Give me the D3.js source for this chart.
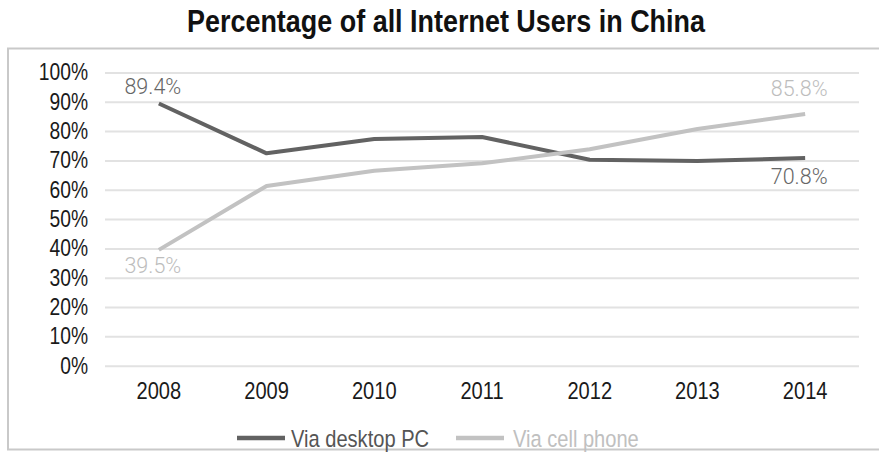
<!DOCTYPE html>
<html><head><meta charset="utf-8">
<script src="https://cdn.jsdelivr.net/npm/d3@7"></script>
<style>body{margin:0;background:#fff}svg{display:block}</style>
</head><body>
<svg id="chart" width="879" height="457"></svg>
<script>
const title = "Percentage of all Internet Users in China";
const years = ["2008","2009","2010","2011","2012","2013","2014"];
const desktopPC = [89.4, 72.4, 77.3, 78.0, 70.2, 69.8, 70.8];
const cellPhone = [39.5, 61.3, 66.5, 69.0, 73.8, 80.7, 85.8];
const yTicks = [0,10,20,30,40,50,60,70,80,90,100];
const seriesNames = ["Via desktop PC", "Via cell phone"];
const seriesColors = ["#626262", "#c2c2c2"];
const labelColors = ["#666666", "#bdbdbd"];

// detect narrow font
function hasFont(f){
  const c=document.createElement("canvas").getContext("2d");
  c.font="40px monospace"; const a=c.measureText("Percentage 2008 abcxyz").width;
  c.font="40px '"+f+"', monospace"; const b=c.measureText("Percentage 2008 abcxyz").width;
  return a!==b;
}
const narrowOK = hasFont("Liberation Sans Narrow");
const NARROW = narrowOK ? "'Liberation Sans Narrow'" : "'Liberation Sans'";
const sx = narrowOK ? 1 : 0.82;

const svg = d3.select("#chart");
const x = d3.scaleBand().domain(years).range([105, 859]).padding(0);
const cx = d => x(d) + x.bandwidth()/2;
const y = d3.scaleLinear().domain([0,100]).range([365.7, 72.4]);

// border
svg.append("rect").attr("x",8).attr("y",48.5).attr("width",890).attr("height",401)
  .attr("fill","none").attr("stroke","#c9c9c9").attr("stroke-width",2);

// title
svg.append("text").attr("x",187).attr("y",31.5)
  .attr("font-family",NARROW+", 'Liberation Sans', sans-serif").attr("font-weight","bold")
  .attr("font-size",30.5).attr("fill","#111")
  .attr("textLength",518).attr("lengthAdjust","spacingAndGlyphs")
  .text(title);

// gridlines
const yAxis = d3.axisLeft(y).tickValues(yTicks).tickFormat(d=>d+"%").tickSize(-(859-105)).tickPadding(17);
const gy = svg.append("g").attr("transform","translate(105,0)").call(yAxis);
gy.select(".domain").remove();
gy.selectAll(".tick line").attr("stroke","#e2e2e2").attr("stroke-width",2);
gy.selectAll(".tick text").attr("font-family",NARROW).attr("font-size",23.5).attr("fill","#1a1a1a")
  .each(function(){ if(sx!==1){ const t=d3.select(this); t.attr("transform","translate(-17,0) scale("+sx+",1) translate(17,0)"); } });

// x axis
const xAxis = d3.axisBottom(x).tickSize(0).tickPadding(0);
const gx = svg.append("g").attr("transform","translate(0,399)").call(xAxis);
gx.select(".domain").remove();
gx.selectAll(".tick text").attr("dy",0).attr("y",0).attr("font-family",NARROW).attr("font-size",24.5).attr("fill","#1a1a1a")
  .attr("transform", sx!==1 ? "scale("+sx+",1)" : null);

// lines
const line = d3.line().x((d,i)=>cx(years[i])).y(d=>y(d));
[desktopPC, cellPhone].forEach((s,k)=>{
  svg.append("path").datum(s).attr("d",line).attr("fill","none")
    .attr("stroke",seriesColors[k]).attr("stroke-width",4).attr("stroke-linejoin","round");
});

// data labels
const labels = [
  {s:0,i:0,dy:-9.6},{s:0,i:6,dy:26},
  {s:1,i:0,dy:23},{s:1,i:6,dy:-18}
];
labels.forEach(l=>{
  const v = [desktopPC,cellPhone][l.s][l.i];
  svg.append("text").attr("x",cx(years[l.i])-6).attr("y",y(v)+l.dy)
    .attr("text-anchor","middle").attr("font-family","Roboto, sans-serif").attr("font-weight",300)
    .attr("font-size",21.5).attr("fill",labelColors[l.s]).text(v.toFixed(1)+"%");
});

// legend
const legX = [237, 456], legTextX=[291, 513];
seriesNames.forEach((n,k)=>{
  svg.append("line").attr("x1",legX[k]).attr("x2",legX[k]+48).attr("y1",438).attr("y2",438)
    .attr("stroke",seriesColors[k]).attr("stroke-width",4.5);
  svg.append("text").attr("x",0).attr("y",0)
    .attr("font-family",NARROW).attr("font-size",24.5).attr("fill",k===0?"#555555":"#c0c0c0").text(n)
    .attr("transform","translate("+legTextX[k]+",446.5) scale("+sx+",1)");
});
</script>
</body></html>
